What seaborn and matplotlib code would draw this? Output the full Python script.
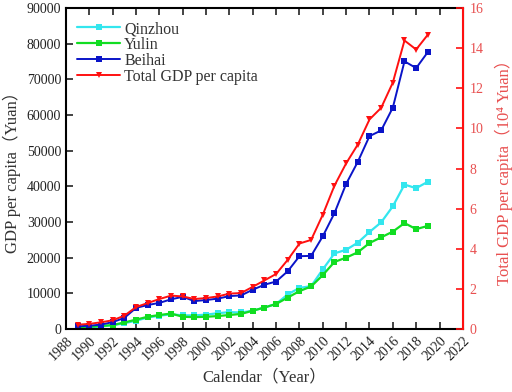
import matplotlib
matplotlib.use('Agg')
import matplotlib.pyplot as plt
import seaborn as sns
import pandas as pd

# Values
years = list(range(1989, 2020))
qinzhou = [400, 500, 700, 1000, 1600, 2300, 3200, 3700, 4100, 3800,
           3800, 4000, 4400, 4700, 4600, 5100, 6000, 7000, 9700, 11500,
           12000, 16700, 21200, 22200, 24200, 27200, 29900, 34400, 40500, 39500,
           41300]
yulin = [500, 600, 800, 1100, 1800, 2600, 3400, 3900, 4300, 3400,
         3300, 3400, 3600, 3900, 4200, 5100, 6000, 7000, 8800, 10600,
         11900, 15100, 18800, 20000, 21500, 24100, 25700, 27300, 29700, 28000,
         28900]
beihai = [700, 900, 1200, 1900, 3100, 5900, 6700, 7300, 8300, 9000,
          7800, 8100, 8500, 9200, 9400, 11000, 12400, 13300, 16200, 20400,
          20500, 26000, 32500, 40700, 46900, 54100, 55700, 62100, 75100, 73200,
          77700]
# total GDP per capita, in 10^4 Yuan (right axis)
total = [0.21, 0.25, 0.33, 0.43, 0.66, 1.09, 1.29, 1.49, 1.66, 1.62,
         1.49, 1.54, 1.62, 1.76, 1.79, 2.10, 2.42, 2.74, 3.45, 4.26,
         4.44, 5.70, 7.15, 8.26, 9.20, 10.45, 11.03, 12.29, 14.39, 13.94,
         14.68]

x_ticks = list(range(1988, 2023, 2))

df = pd.DataFrame({'year': years, 'Qinzhou': qinzhou, 'Yulin': yulin,
                   'Beihai': beihai, 'total': total})

sns.set_style('ticks')
plt.rcParams['font.family'] = ['Liberation Serif', 'Noto Sans CJK SC', 'DejaVu Sans']

fig = plt.figure(figsize=(5.12, 3.92), dpi=100)
ax = fig.add_axes([0.129, 0.161, 0.775, 0.818])

sns.lineplot(data=df, x='year', y='Qinzhou', ax=ax, color='#33e6ee', marker='s',
             markersize=4.5, markeredgewidth=0, linewidth=1.6, label='Qinzhou')
sns.lineplot(data=df, x='year', y='Yulin', ax=ax, color='#11dd22', marker='s',
             markersize=4.5, markeredgewidth=0, linewidth=1.6, label='Yulin')
sns.lineplot(data=df, x='year', y='Beihai', ax=ax, color='#0a14c8', marker='s',
             markersize=4, markeredgewidth=0, linewidth=1.4, label='Beihai')

ax2 = ax.twinx()
sns.lineplot(data=df, x='year', y='total', ax=ax2, color='#ff1010', marker='v',
             markersize=5, markeredgewidth=0, linewidth=1.4,
             label='Total GDP per capita')

ax.set_xlim(1988, 2022)
ax.set_ylim(0, 90000)
ax2.set_ylim(0, 16)
ax.set_xticks(x_ticks)
ax.set_xticklabels([str(t) for t in x_ticks], rotation=45, ha='right',
                   rotation_mode='anchor')
ax.set_yticks(range(0, 90001, 10000))
ax2.set_yticks(range(0, 17, 2))

ax.tick_params(axis='x', direction='in', top=True, length=5, width=1.2,
               labelsize=10, colors='#222222', pad=4)
ax.tick_params(axis='y', direction='in', length=5, width=1.2, labelsize=10,
               colors='#222222')
ax2.tick_params(axis='y', direction='in', length=5, width=1.2, labelsize=10,
                colors='#ff1010', labelcolor='#e85050', pad=5)

for s in ['left', 'bottom', 'top']:
    ax.spines[s].set_linewidth(1.5)
    ax.spines[s].set_color('black')
ax2.spines['right'].set_color('#ff1010')
ax2.spines['right'].set_linewidth(1.5)
ax2.spines['top'].set_visible(False)
ax2.spines['left'].set_visible(False)
ax2.spines['bottom'].set_visible(False)

ax.set_xlabel('Calendar（Year）', fontsize=12, color='#333333', labelpad=4)
ax.set_ylabel('GDP per capita（Yuan）', fontsize=12, color='#333333',
              labelpad=4)
ax2.set_ylabel('Total GDP per capita（10⁴ Yuan）', fontsize=12,
               color='#e85050', labelpad=8)

# combined legend in upper left
h1, l1 = ax.get_legend_handles_labels()
h2, l2 = ax2.get_legend_handles_labels()
ax.get_legend().remove()
ax2.get_legend().remove()
leg = ax2.legend(h1 + h2, l1 + l2, loc='upper left', frameon=False,
                 fontsize=11.5, handlelength=2.7, handletextpad=0.25,
                 labelspacing=0.0, borderaxespad=0.3,
                 bbox_to_anchor=(0.0, 0.995))
for t in leg.get_texts():
    t.set_color('#333333')

fig.savefig('out.png', dpi=100)
